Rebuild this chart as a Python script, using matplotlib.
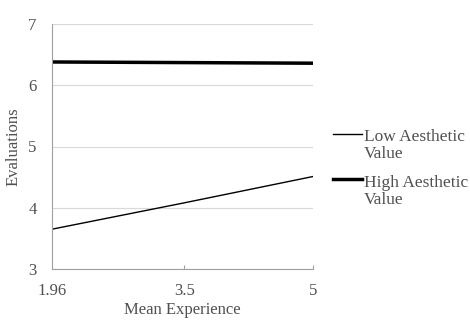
import matplotlib
matplotlib.use("Agg")
import matplotlib.pyplot as plt
from matplotlib.legend_handler import HandlerLine2D

experience = [1.96, 3.5, 5]
low_aesthetic = [3.65, 4.08, 4.51]
high_aesthetic = [6.38, 6.37, 6.36]
series_names = ["Low Aesthetic\nValue", "High Aesthetic\nValue"]

plt.rcParams['font.family'] = ['Liberation Serif', 'DejaVu Serif']
text_color = '#505050'


class TopLineHandler(HandlerLine2D):
    # put the legend line next to the first text line, not the middle
    def create_artists(self, legend, orig_handle, xdescent, ydescent,
                       width, height, fontsize, trans):
        artists = super().create_artists(legend, orig_handle, xdescent, ydescent,
                                         width, height, fontsize, trans)
        for a in artists:
            y = a.get_ydata()
            a.set_ydata([v + height * 1.0 for v in y])
        return artists


fig = plt.figure(figsize=(4.7, 3.2), dpi=100)
ax = fig.add_axes([52 / 470, 1 - 269 / 320, (313 - 52) / 470, (269 - 24) / 320])

ax.plot(experience, low_aesthetic, color='black', linewidth=1.0, label=series_names[0])
ax.plot(experience, high_aesthetic, color='black', linewidth=2.5, label=series_names[1])

ax.set_xlim(1.96, 5)
ax.set_ylim(3, 7)
ax.set_xticks(experience)
ax.set_xticklabels(["1.96", "3.5", "5"])
ax.set_yticks([3, 4, 5, 6, 7])
ax.grid(axis='y', color='#d9d9d9', linewidth=0.8)
ax.set_axisbelow(True)

for s in ['top', 'right']:
    ax.spines[s].set_visible(False)
for s in ['left', 'bottom']:
    ax.spines[s].set_color('#a0a0a0')
    ax.spines[s].set_linewidth(0.8)

ax.tick_params(axis='y', length=0, labelsize=12, colors=text_color, pad=11)
ax.tick_params(axis='x', direction='in', length=3, color='#a0a0a0',
               labelsize=12, labelcolor=text_color, pad=10)

ax.set_xlabel("Mean Experience", fontsize=12, color=text_color, labelpad=2)
ax.set_ylabel("Evaluations", fontsize=12, color=text_color, labelpad=5)

leg = ax.legend(loc='center left', bbox_to_anchor=(1.077, 0.41), frameon=False,
                fontsize=12.5, labelcolor=text_color, handlelength=1.65,
                handletextpad=0.12, labelspacing=0.75, borderpad=0,
                borderaxespad=0,
                handler_map={plt.Line2D: TopLineHandler()})
for t in leg.get_texts():
    t.set_linespacing(1.05)

fig.savefig("out.png", dpi=100)
